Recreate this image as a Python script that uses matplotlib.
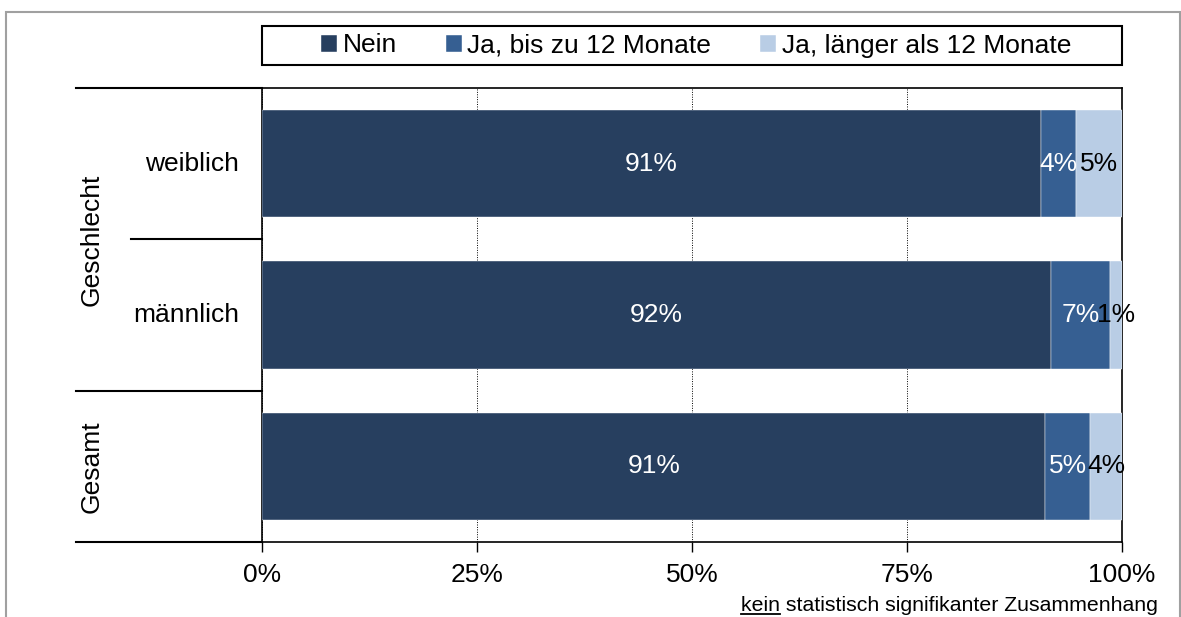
import matplotlib
matplotlib.use('Agg')
import matplotlib.pyplot as plt
import matplotlib.transforms as mtransforms
from matplotlib.patches import Rectangle
from matplotlib.lines import Line2D
import numpy as np

plt.rcParams['font.family'] = ['Liberation Sans', 'DejaVu Sans']

# data (percent)
categories = ['weiblich', 'männlich', 'Gesamt']
series_names = ['Nein', 'Ja, bis zu 12 Monate', 'Ja, länger als 12 Monate']
nein = [90.6, 91.8, 91.1]
ja_bis_12 = [4.0, 6.8, 5.2]
ja_laenger = [5.4, 1.4, 3.7]
x_ticks = [0, 25, 50, 75, 100]

colors = ['#273F5F', '#365F92', '#B9CDE5']
label_colors = ['white', 'white', 'black']
FS = 19

W, H = 1181, 617
fig = plt.figure(figsize=(W / 100, H / 100), dpi=100)

# plot area in pixel units
px_left, px_right, px_top, px_bottom = 262, 1122, 88, 542
ax = fig.add_axes([px_left / W, 1 - px_bottom / H,
                   (px_right - px_left) / W, (px_bottom - px_top) / H])

y = np.arange(len(categories))
left = np.zeros(len(categories))
bars = []
for vals, name, col, lcol in zip([nein, ja_bis_12, ja_laenger], series_names,
                                 colors, label_colors):
    b = ax.barh(y, vals, left=left, height=0.71, color=col, label=name,
                edgecolor='white', linewidth=0.3, zorder=3)
    bars.append(b)
    for yi, l, v in zip(y, left, vals):
        ax.text(l + v / 2, yi, f'{v:.0f}%', ha='center', va='center',
                color=lcol, fontsize=FS, zorder=4)
    left = left + np.array(vals)

ax.set_xlim(0, 100)
ax.set_ylim(2.5, -0.5)
ax.set_xticks(x_ticks)
ax.set_xticklabels([f'{t}%' for t in x_ticks])
ax.set_yticks([])
ax.tick_params(axis='x', direction='out', length=7, width=1, labelsize=FS, pad=8)
ax.xaxis.grid(True, linestyle=(0, (1, 1.5)), color='black', linewidth=0.7, zorder=0)
ax.set_axisbelow(True)
for s in ax.spines.values():
    s.set_linewidth(1.2)
    s.set_color('black')

# hierarchical category axis on the left
trans = mtransforms.blended_transform_factory(ax.transAxes, ax.transData)
x_outer = (76 - px_left) / (px_right - px_left)
x_inner = (131 - px_left) / (px_right - px_left)
for yb, xs in [(-0.5, x_outer), (0.5, x_inner), (1.5, x_outer), (2.5, x_outer)]:
    ax.plot([xs, 0], [yb, yb], color='black', linewidth=1.5, transform=trans,
            clip_on=False)
x_sub = (239 - px_left) / (px_right - px_left)
for yi, cat in zip(y[:2], categories[:2]):
    ax.text(x_sub, yi, cat, ha='right', va='center', fontsize=FS, transform=trans)
x_grp = (92 - px_left) / (px_right - px_left)
ax.text(x_grp, 0.5, 'Geschlecht', rotation=90, ha='center', va='center',
        fontsize=FS, transform=trans)
ax.text(x_grp, 2.0, categories[2], rotation=90, ha='center', va='center',
        fontsize=FS, transform=trans)

# legend with its own frame
fig.patches.append(Rectangle((262 / W, 1 - 65 / H), 860 / W, 39 / H,
                             transform=fig.transFigure, fill=False,
                             edgecolor='black', linewidth=1.5))
fig.legend(handles=bars, loc='center', bbox_to_anchor=(696 / W, 1 - 45.5 / H),
           ncol=3, frameon=False, fontsize=FS, handlelength=0.6,
           handleheight=0.6, handletextpad=0.22, columnspacing=1.85,
           borderpad=0, borderaxespad=0)

# outer chart border
fig.patches.append(Rectangle((6 / W, -0.05), 1174 / W, 1.05 - 12 / H,
                             transform=fig.transFigure, fill=False,
                             edgecolor='#A0A0A0', linewidth=1.5))

# footnote, first word underlined
note = fig.text(1158 / W, 1 - 611 / H, 'kein statistisch signifikanter Zusammenhang',
                ha='right', va='baseline', fontsize=15.3)
fig.canvas.draw()
renderer = fig.canvas.get_renderer()
bb = note.get_window_extent(renderer)
probe = fig.text(0, 0, 'kein', fontsize=15.3)
kein_w = probe.get_window_extent(renderer).width
probe.remove()
fig.lines.append(Line2D([bb.x0 / W, (bb.x0 + kein_w) / W], [1 - 614 / H] * 2,
                        transform=fig.transFigure, color='black', linewidth=1.3))

fig.savefig('out.png', dpi=100)
